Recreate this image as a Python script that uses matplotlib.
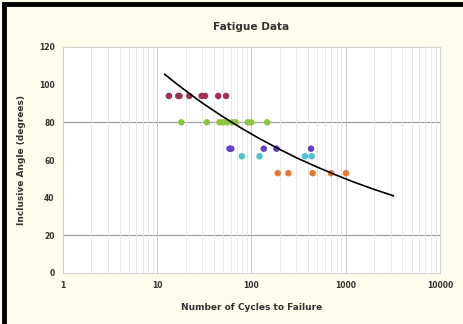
import numpy as np
import matplotlib as mpl
mpl.use("Agg")
import matplotlib.pyplot as plt
from matplotlib.lines import Line2D

# data (cycles to failure, inclusive angle in degrees)
red_n = [13.3, 16.7, 17.2, 21.9, 29.6, 32.1, 44.4, 53.7]
red_y = [94, 94, 94, 94, 94, 94, 94, 94]
green_n = [18, 33.6, 45.8, 49.7, 54.8, 62.5, 67.7, 91.4, 99.3, 146.6]
green_y = [80, 80, 80, 80, 80, 80, 80, 80, 80, 80]
purple_n = [58.5, 61, 135, 184, 428]
purple_y = [66, 66, 66, 66, 66]
cyan_n = [78.9, 121.6, 370, 435]
cyan_y = [62, 62, 62, 62]
orange_n = [190, 246, 445, 697, 1005]
orange_y = [53, 53, 53, 53, 53]
trend_n = [12, 15, 20, 30, 50, 80, 120, 200, 300, 500, 800, 1200, 2000, 3200]
trend_y = [105.5, 101.6, 96.8, 90.3, 82.9, 76.6, 71.5, 65.6, 61.2, 56.2, 51.9, 48.4, 44.4, 41.0]

yticks = [0, 20, 40, 60, 80, 100, 120]
xticks = [1, 10, 100, 1000, 10000]

C = dict(red="#a3314f", green="#8cc63e", purple="#6640c4", cyan="#4cc3cf",
         orange="#e27a30", bg="#fefcea", minor="#e3e3e3", major="#c6c6c6", hline="#a0a0a0")

fig = plt.figure(figsize=(4.64, 3.24), dpi=100, facecolor=C["bg"])
ax = fig.add_axes([63 / 464, 1 - 273 / 324, 377 / 464, 226 / 324])
ax.set_facecolor("white")

# picture frame (black left/top edges)
fig.add_artist(Line2D([4 / 464, 4 / 464], [0, 1 - 4 / 324], transform=fig.transFigure,
                      color="black", lw=3.5))
fig.add_artist(Line2D([4 / 464, 1], [1 - 4 / 324, 1 - 4 / 324], transform=fig.transFigure,
                      color="black", lw=3.5))

ax.set_xscale("log")
ax.set_xlim(1, 10000)
ax.set_ylim(0, 120)
ax.set_xticks(xticks)
ax.set_xticklabels([str(v) for v in xticks])
ax.set_yticks(yticks)
ax.xaxis.set_minor_locator(mpl.ticker.LogLocator(base=10, subs=np.arange(2, 10)))
ax.xaxis.set_minor_formatter(mpl.ticker.NullFormatter())
ax.grid(True, which="minor", axis="x", color=C["minor"], lw=0.6)
ax.grid(True, which="major", axis="x", color=C["major"], lw=0.7)
for v in (20, 80):
    ax.axhline(v, color=C["hline"], lw=0.9, zorder=1)
ax.tick_params(which="both", length=0, labelsize=5.5, pad=6)
for lbl in ax.get_xticklabels() + ax.get_yticklabels():
    lbl.set_fontweight("bold")
    lbl.set_color("#333333")
for s in ax.spines.values():
    s.set_color("#cfcfcf")
    s.set_linewidth(0.7)

for n, y, c in [(red_n, red_y, "red"), (green_n, green_y, "green"),
                (purple_n, purple_y, "purple"), (cyan_n, cyan_y, "cyan"),
                (orange_n, orange_y, "orange")]:
    ax.scatter(n, y, s=22, color=C[c], edgecolor="none", zorder=3)
ax.plot(trend_n, trend_y, color="black", lw=1.2, zorder=4)

ax.set_title("Fatigue Data", fontsize=7.6, fontweight="bold", color="#333333", pad=12)
ax.set_xlabel("Number of Cycles to Failure", fontsize=6.5, fontweight="bold",
              color="#333333", labelpad=9)
ax.set_ylabel("Inclusive Angle (degrees)", fontsize=6.5, fontweight="bold",
              color="#333333", labelpad=9)

fig.savefig("out.png", dpi=100, facecolor=fig.get_facecolor())
